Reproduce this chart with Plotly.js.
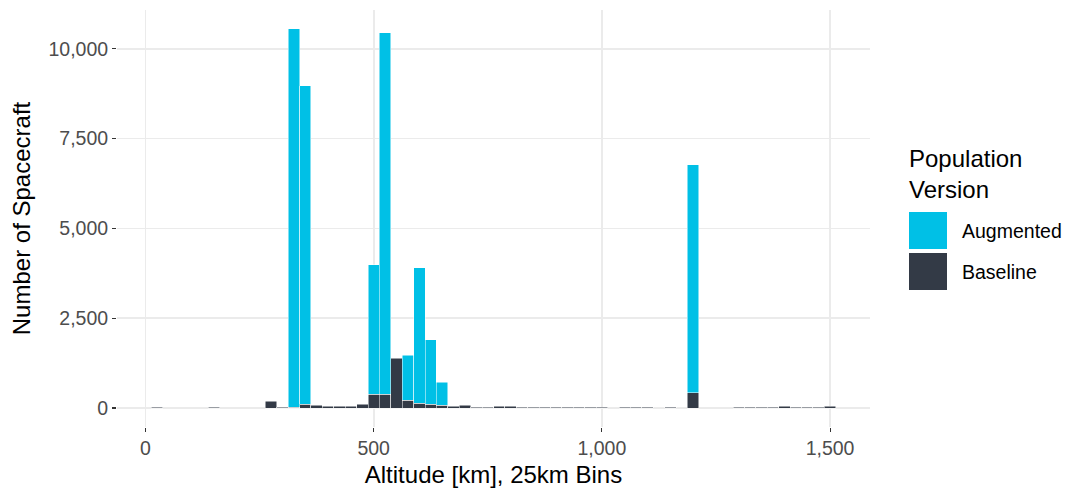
<!DOCTYPE html>
<html><head><meta charset="utf-8">
<script src="https://cdn.plot.ly/plotly-3.0.1.min.js"></script>
<style>html,body{margin:0;padding:0;background:#fff}</style>
</head><body><div id="chart" style="width:1075px;height:488px"></div>
<script>
// 25 km bin centres (km)
const binCenters = [25,50,75,100,125,150,175,200,225,250,275,300,325,350,375,400,425,450,475,500,
  525,550,575,600,625,650,675,700,725,750,775,800,825,850,875,900,925,950,975,1000,
  1025,1050,1075,1100,1125,1150,1175,1200,1225,1250,1275,1300,1325,1350,1375,1400,1425,1450,1475,1500];
// Baseline population counts per bin
const baseline = [20,0,0,0,0,20,0,0,0,0,190,25,25,100,75,50,50,50,100,390,
  390,1390,220,140,110,80,50,80,25,25,50,50,25,20,20,20,20,20,20,20,
  0,20,20,20,0,20,0,420,0,0,0,20,20,20,20,55,20,20,20,55];
// Additional (augmented) counts per bin, stacked on top of baseline
const augmented = [0,0,0,0,0,0,0,0,0,0,0,0,10525,8870,0,0,0,0,0,3595,
  10060,0,1255,3770,1785,640,0,0,0,0,0,0,0,0,0,0,0,0,0,0,
  0,0,0,0,0,0,0,6355,0,0,0,0,0,0,0,0,0,0,0,0];
const seriesNames = ["Augmented", "Baseline"];
const xTicks = [0, 500, 1000, 1500];
const yTicks = [0, 2500, 5000, 7500, 10000];
const binWidth = 25;

const colAug = "#00C0E6", colBase = "#333A46";
const FONT = "Liberation Sans, Arial, Helvetica, sans-serif";
const M = {l:117, r:205, t:10, b:61};
const W = 1075, H = 488;
const pw = W - M.l - M.r, ph = H - M.t - M.b;
const px2x = p => (p - M.l) / pw;
const px2y = p => (H - M.b - p) / ph;

const totals = binCenters.map((_, i) => baseline[i] + augmented[i]);
const ymax = Math.max(...totals);
const xmin = binCenters[0] - binWidth/2, xmax = binCenters[binCenters.length-1] + binWidth/2;
const xpad = 0.05 * (xmax - xmin);

const traces = [
  {type:'bar', name: seriesNames[1], x: binCenters, y: baseline.map(v => v || null),
   width: binWidth, marker:{color: colBase, line:{color:'#ffffff', width:0.5}}, showlegend:false},
  {type:'bar', name: seriesNames[0], x: binCenters, y: augmented.map(v => v || null),
   width: binWidth, marker:{color: colAug, line:{color:'#ffffff', width:0.5}}, showlegend:false}
];

const fmt = v => v.toLocaleString('en-US');

const layout = {
  width: W, height: H,
  margin: M,
  paper_bgcolor: '#ffffff', plot_bgcolor: '#ffffff',
  barmode: 'stack', bargap: 0,
  font: {family: FONT, color: '#000000'},
  showlegend: false,
  xaxis: {
    range: [xmin - xpad, xmax + xpad],
    tickvals: xTicks, ticktext: xTicks.map(fmt),
    ticks: 'outside', ticklen: 4, tickwidth: 1.1, tickcolor: '#333333',
    tickfont: {size: 19.5, color: '#4D4D4D', family: FONT},
    showgrid: true, gridcolor: '#EBEBEB', gridwidth: 1.6,
    zeroline: false, showline: false,
    title: {text: 'Altitude [km], 25km Bins', font: {size: 24, color: '#000000', family: FONT}, standoff: 8},
    automargin: false
  },
  yaxis: {
    range: [-0.05 * ymax, 1.05 * ymax],
    tickvals: yTicks, ticktext: yTicks.map(fmt),
    ticks: 'outside', ticklen: 4, tickwidth: 1.1, tickcolor: '#333333',
    tickfont: {size: 19.5, color: '#4D4D4D', family: FONT},
    showgrid: true, gridcolor: '#EBEBEB', gridwidth: 1.6,
    zeroline: false, showline: false,
    title: {text: 'Number of Spacecraft', font: {size: 24, color: '#000000', family: FONT}, standoff: 11},
    automargin: false
  },
  shapes: [
    {type:'rect', xref:'paper', yref:'paper', x0: px2x(909), x1: px2x(947), y0: px2y(249), y1: px2y(212),
     fillcolor: colAug, line:{width:0}},
    {type:'rect', xref:'paper', yref:'paper', x0: px2x(909), x1: px2x(947), y0: px2y(290), y1: px2y(253),
     fillcolor: colBase, line:{width:0}}
  ],
  annotations: [
    {xref:'paper', yref:'paper', x: px2x(907), y: px2y(143), xanchor:'left', yanchor:'top', align:'left',
     showarrow:false, text:'Population<br>Version', font:{size:24, color:'#000000', family:FONT}},
    {xref:'paper', yref:'paper', x: px2x(960), y: px2y(231), xanchor:'left', yanchor:'middle',
     showarrow:false, text: seriesNames[0], font:{size:19.5, color:'#000000', family:FONT}},
    {xref:'paper', yref:'paper', x: px2x(960), y: px2y(272), xanchor:'left', yanchor:'middle',
     showarrow:false, text: seriesNames[1], font:{size:19.5, color:'#000000', family:FONT}}
  ]
};

Plotly.newPlot('chart', traces, layout, {displayModeBar:false, staticPlot:true});
</script>
</body></html>
